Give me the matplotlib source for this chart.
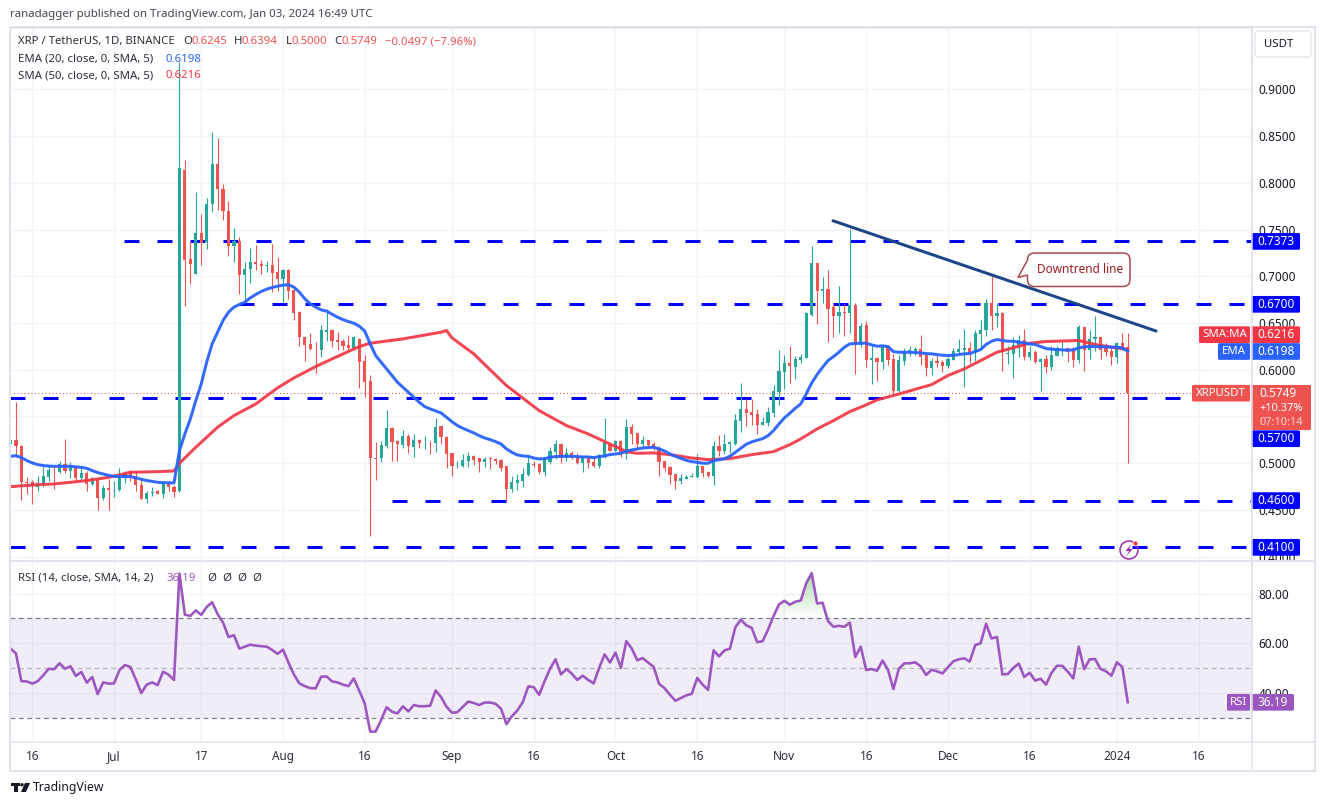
import numpy as np
import matplotlib
matplotlib.use("Agg")
import matplotlib.pyplot as plt
from matplotlib.patches import Rectangle, FancyBboxPatch, Circle, Polygon, PathPatch
from matplotlib.path import Path

# ---- data (days counted from 16 Jun 2023) ----
first_day = -4
opens = [.5206,.5249,.5188,.4799,.4799,.4742,.4778,.4857,.4931,.4910,
 .4992,.4921,.4949,.4846,.4899,.4774,.4821,.4632,.4739,.4721,
 .4717,.4839,.4903,.4867,.4771,.4614,.4678,.4707,.4668,.4774,
 .4749,.4700,.8140,.7180,.7026,.7465,.7365,.7772,.8197,.7936,
 .7701,.7319,.7380,.7009,.7073,.7158,.7133,.7108,.7116,.7041,
 .6966,.7062,.6848,.6619,.6355,.6277,.6238,.6216,.6409,.6430,
 .6323,.6312,.6270,.6234,.6330,.6098,.5884,.5057,.5053,.5188,
 .5381,.5242,.5199,.5295,.5178,.5253,.5224,.5231,.5220,.5395,
 .5285,.5106,.4978,.4971,.5028,.5081,.5053,.5017,.5053,.5049,
 .5039,.4967,.4728,.4792,.4814,.4878,.4996,.4996,.4910,.5017,
 .5124,.5210,.5057,.5113,.5071,.5006,.5064,.5017,.4974,.5071,
 .5203,.5135,.5242,.5103,.5392,.5328,.5210,.5253,.5210,.5167,
 .5028,.4964,.4889,.4814,.4835,.4849,.4857,.4974,.4910,.4867,
 .5188,.5135,.5210,.5210,.5456,.5584,.5553,.5531,.5413,.5435,
 .5542,.5766,.5981,.6077,.6034,.6109,.6131,.6587,.7147,.6840,
 .6865,.6666,.6580,.6623,.6602,.6698,.6269,.6484,.6109,.6130,
 .6087,.6259,.6120,.5777,.6098,.6202,.6198,.6227,.6162,.6023,
 .6098,.6088,.6045,.6109,.6195,.6216,.6238,.6195,.6387,.6420,
 .6719,.6570,.6612,.6173,.6173,.6259,.6313,.6141,.6195,.6088,
 .6120,.6034,.6152,.6230,.6238,.6205,.6109,.6462,.6216,.6334,
 .6345,.6238,.6205,.6141,.6291,.6245]
highs = [.5278,.5660,.5199,.4857,.4824,.4864,.4956,.4981,.4971,.5028,
 .5263,.5017,.4956,.4971,.4921,.4849,.4842,.4771,.4828,.4814,
 .4953,.4914,.4928,.4914,.4842,.4707,.4749,.4714,.4807,.4796,
 .4764,.9290,.8247,.7365,.7897,.7662,.7840,.8540,.8482,.7983,
 .7801,.7519,.7422,.7155,.7305,.7330,.7169,.7162,.7348,.7201,
 .7083,.7073,.6866,.6627,.6355,.6388,.6295,.6484,.6652,.6441,
 .6409,.6330,.6377,.6363,.6341,.6159,.5949,.5231,.5242,.5574,
 .5392,.5253,.5360,.5317,.5317,.5256,.5295,.5238,.5488,.5403,
 .5295,.5113,.5028,.5103,.5121,.5085,.5060,.5071,.5071,.5053,
 .5046,.4974,.4867,.4889,.4953,.5081,.5028,.5006,.5071,.5171,
 .5253,.5213,.5167,.5135,.5113,.5081,.5081,.5071,.5103,.5488,
 .5220,.5253,.5253,.5477,.5424,.5328,.5295,.5253,.5231,.5188,
 .5028,.4974,.4889,.4889,.4878,.4899,.5103,.4974,.4921,.5242,
 .5306,.5317,.5242,.5531,.5863,.5688,.5691,.5584,.5499,.5606,
 .5842,.6206,.6163,.6259,.6152,.6173,.6623,.7319,.7147,.6987,
 .7062,.6708,.6901,.6708,.7501,.6719,.6505,.6526,.6269,.6141,
 .6280,.6269,.6169,.6162,.6237,.6259,.6248,.6376,.6169,.6131,
 .6163,.6109,.6141,.6238,.6334,.6441,.6302,.6430,.6537,.6752,
 .6998,.6709,.6623,.6259,.6345,.6377,.6441,.6259,.6216,.6131,
 .6163,.6259,.6259,.6323,.6248,.6248,.6484,.6462,.6420,.6580,
 .6355,.6291,.6248,.6302,.6398,.6394]
lows = [.5171,.5064,.4610,.4671,.4560,.4699,.4742,.4807,.4721,.4896,
 .4892,.4839,.4807,.4821,.4699,.4767,.4496,.4610,.4496,.4635,
 .4699,.4785,.4814,.4699,.4614,.4571,.4650,.4668,.4625,.4707,
 .4642,.4695,.6687,.6912,.7023,.7116,.7297,.7683,.7704,.7597,
 .7212,.7148,.6805,.6741,.6926,.7062,.7019,.7041,.6830,.6841,
 .6730,.6762,.6537,.6252,.6098,.6206,.5963,.6141,.6312,.6241,
 .6213,.6216,.6206,.6227,.5802,.5713,.4225,.4824,.5010,.5160,
 .5028,.5028,.5160,.5106,.5071,.5160,.5156,.5103,.5124,.5210,
 .4946,.4860,.4946,.4964,.4964,.4985,.4910,.4964,.4942,.4996,
 .4921,.4592,.4696,.4717,.4742,.4867,.4964,.4885,.4860,.4996,
 .5049,.5000,.5028,.5049,.4989,.4910,.4953,.4964,.4953,.5060,
 .5135,.5135,.5071,.5049,.5203,.5167,.5178,.5178,.5146,.4867,
 .4921,.4782,.4728,.4782,.4835,.4849,.4846,.4857,.4857,.4771,
 .5081,.5103,.5113,.5199,.5338,.5403,.5413,.5317,.5413,.5403,
 .5499,.5627,.5799,.5863,.5906,.6077,.6131,.6580,.6494,.6719,
 .6302,.6355,.6398,.6366,.6398,.5959,.6248,.6034,.5852,.5884,
 .6013,.6055,.5734,.5766,.6055,.6152,.6162,.6055,.5937,.5949,
 .6034,.5981,.6023,.6109,.6173,.5820,.6077,.6098,.6238,.6366,
 .6420,.6462,.5991,.6066,.5916,.6141,.6109,.6109,.6077,.5777,
 .5970,.6002,.6152,.6152,.6088,.6034,.6077,.5991,.6120,.6205,
 .6120,.6152,.6056,.6077,.6216,.5000]
closes = [.5249,.5181,.4796,.4792,.4760,.4789,.4864,.4931,.4924,.4992,
 .4921,.4985,.4846,.4896,.4774,.4842,.4632,.4735,.4717,.4728,
 .4842,.4899,.4864,.4764,.4614,.4685,.4696,.4668,.4782,.4742,
 .4696,.8154,.7169,.7126,.7465,.7358,.7776,.8197,.7933,.7697,
 .7323,.7372,.7009,.7080,.7158,.7126,.7105,.7116,.7033,.6966,
 .7062,.6841,.6612,.6345,.6270,.6227,.6230,.6420,.6430,.6312,
 .6302,.6259,.6234,.6345,.6088,.5874,.5053,.5049,.5199,.5381,
 .5231,.5203,.5295,.5181,.5253,.5220,.5231,.5224,.5392,.5278,
 .5096,.4967,.4985,.5039,.5081,.5039,.5017,.5049,.5046,.5024,
 .4953,.4728,.4803,.4824,.4889,.5006,.4985,.4910,.5060,.5135,
 .5210,.5053,.5113,.5060,.5006,.5064,.5006,.4974,.5092,.5231,
 .5135,.5242,.5113,.5392,.5317,.5210,.5253,.5199,.5160,.5017,
 .4953,.4878,.4814,.4846,.4857,.4867,.4974,.4899,.4867,.5188,
 .5135,.5210,.5228,.5467,.5584,.5542,.5520,.5413,.5445,.5553,
 .5777,.5991,.6077,.6045,.6120,.6141,.6602,.7147,.6840,.6865,
 .6655,.6580,.6623,.6602,.6698,.6280,.6473,.6109,.6130,.6087,
 .6259,.6109,.5777,.6109,.6205,.6216,.6227,.6141,.6023,.6098,
 .6077,.6045,.6120,.6205,.6223,.6238,.6184,.6398,.6430,.6719,
 .6570,.6612,.6195,.6184,.6270,.6313,.6141,.6195,.6088,.6120,
 .6034,.6163,.6238,.6238,.6195,.6109,.6462,.6213,.6334,.6345,
 .6216,.6195,.6141,.6291,.6227,.5749]
ema20 = [.5074,.5081,.5060,.5028,.5003,.4985,.4975,.4970,.4967,.4967,
 .4967,.4967,.4962,.4956,.4945,.4921,.4900,.4885,.4870,.4860,
 .4857,.4857,.4857,.4845,.4828,.4815,.4805,.4796,.4792,.4790,
 .4789,.5135,.5314,.5474,.5670,.5849,.6081,.6277,.6402,.6527,
 .6616,.6670,.6698,.6723,.6769,.6805,.6837,.6862,.6880,.6894,
 .6905,.6909,.6884,.6830,.6759,.6705,.6670,.6641,.6627,.6595,
 .6562,.6537,.6516,.6498,.6466,.6413,.6277,.6152,.6081,.6009,
 .5938,.5866,.5813,.5759,.5706,.5652,.5606,.5581,.5560,.5538,
 .5492,.5445,.5403,.5374,.5349,.5324,.5295,.5270,.5253,.5231,
 .5206,.5153,.5117,.5088,.5078,.5074,.5056,.5046,.5049,.5064,
 .5071,.5074,.5074,.5074,.5071,.5067,.5067,.5060,.5071,.5078,
 .5092,.5099,.5106,.5128,.5142,.5153,.5163,.5167,.5171,.5153,
 .5131,.5099,.5074,.5053,.5031,.5017,.5010,.5000,.5000,.5028,
 .5039,.5049,.5074,.5117,.5160,.5203,.5228,.5246,.5263,.5295,
 .5349,.5420,.5485,.5535,.5588,.5635,.5742,.5859,.5949,.6027,
 .6098,.6141,.6188,.6241,.6277,.6280,.6284,.6284,.6266,.6252,
 .6255,.6248,.6194,.6187,.6187,.6187,.6184,.6180,.6173,.6170,
 .6163,.6155,.6152,.6155,.6163,.6170,.6173,.6195,.6216,.6270,
 .6305,.6323,.6313,.6305,.6305,.6295,.6288,.6277,.6270,.6248,
 .6227,.6220,.6216,.6213,.6209,.6213,.6234,.6245,.6248,.6248,
 .6245,.6245,.6241,.6241,.6234,.6198]
sma_days = [-4,0,4,10,14,18,23,26,27,30,34,37,41,45,48,52,55,60,62,68,75,76,77,81,83,87,93,
 98,102,106,109,111,114,117,121,124,128,132,136,139,141,144,147,150,153,155,159,165,168,
 171,174,177,180,183,186,192,195,201]
sma50 = [.4749,.4767,.4778,.4814,.4849,.4903,.4910,.4917,.5000,.5171,.5385,.5510,.5634,.5806,.5913,.6034,.6116,
 .6248,.6284,.6330,.6402,.6420,.6341,.6170,.6056,.5831,.5563,.5403,.5313,.5206,.5124,.5106,.5110,.5092,
 .5056,.5039,.5049,.5092,.5124,.5199,.5260,.5367,.5456,.5552,.5624,.5677,.5741,.5841,.5938,.6009,.6098,
 .6188,.6234,.6284,.6302,.6313,.6270,.6216]
rsi = [57.8,55.9,44.7,44.6,43.7,44.7,47.0,49.7,49.5,51.9,49.7,50.7,46.8,48.4,44.1,46.4,39.5,44.2,43.7,43.8,
 49.2,51.2,50.4,45.4,39.9,43.3,44.2,43.1,48.5,47.3,45.2,88.0,71.5,71.0,73.2,71.4,74.6,76.5,71.7,68.3,
 62.5,63.2,57.8,58.6,59.4,59.0,58.8,58.6,57.3,55.7,57.4,52.2,47.4,43.8,42.7,41.9,41.8,46.5,46.6,44.6,
 44.2,43.3,42.7,45.8,40.7,35.7,24.4,24.4,29.0,34.2,32.4,31.7,34.6,32.5,35.1,34.6,34.6,34.8,41.0,38.3,
 34.4,32.0,32.2,34.4,36.5,35.9,35.1,36.1,36.1,35.6,33.6,27.4,30.6,32.9,36.3,42.6,42.3,39.2,44.7,49.7,
 53.5,47.4,49.6,47.7,45.2,46.9,45.2,43.8,50.0,55.5,52.2,56.2,50.1,60.8,57.8,53.1,54.0,52.2,50.5,43.6,
 41.9,39.2,36.8,37.9,39.0,39.6,46.0,43.3,41.2,57.1,54.7,57.1,57.8,66.4,69.5,67.2,66.2,60.4,60.8,65.5,
 70.9,75.6,77.1,75.5,76.7,77.2,84.1,88.2,76.0,76.3,68.9,66.6,67.0,66.6,68.3,54.4,58.6,49.2,49.6,48.9,
 53.0,49.3,41.5,49.7,51.9,51.9,52.3,50.7,47.2,49.3,48.7,47.8,50.3,52.7,53.5,53.9,52.6,59.2,60.0,67.8,
 61.9,62.5,47.4,47.6,50.0,51.8,46.4,48.1,44.9,45.7,43.3,48.0,50.9,50.9,48.5,45.8,58.6,49.5,53.5,53.6,
 49.6,48.7,46.9,52.3,50.4,36.19]
level_prices = [0.7373, 0.6700, 0.5700, 0.4600, 0.4100]
level_starts = [16.8, 37.9, -4.1, 66.0, -4.1]
trend_days = [146.9, 206.2]
trend_prices = [0.7594, 0.6414]
last_price = 0.5749
sma_last = 0.6216
ema_last = 0.6198
price_ticks = [0.40,0.45,0.50,0.55,0.60,0.65,0.70,0.75,0.80,0.85,0.90]
rsi_ticks = [40, 60, 80]
time_days = [0,15,31,46,61,77,92,107,122,138,153,168,183,199,214]
time_labels = ["16","Jul","17","Aug","16","Sep","16","Oct","16","Nov","16","Dec","16","2024","16"]

# ---- layout ----
W, H = 1325, 805
plt.rcParams['font.family'] = ['Noto Sans', 'DejaVu Sans']
GRID, FRAME, TXT = '#f0f3f8', '#e0e3eb', '#131722'
UP, DOWN = '#26a69a', '#ef5350'
BLUE, RED = '#2962ff', '#f23645'
PURPLE = '#9c56c0'
PX = 0.72  # one pixel in points

fig = plt.figure(figsize=(W/100, H/100), dpi=100, facecolor='white')
def rect_px(l, t, r, b):
    return [l/W, 1-b/H, (r-l)/W, (b-t)/H]
ax = fig.add_axes(rect_px(10, 28, 1251.5, 561))
rs = fig.add_axes(rect_px(10, 561, 1251.5, 742))
ov = fig.add_axes([0, 0, 1, 1], zorder=10)
ov.set_xlim(0, W); ov.set_ylim(H, 0); ov.axis('off'); ov.patch.set_alpha(0)

days = np.arange(first_day, first_day+len(closes))
xlim = (-4.09, 223.7)
for a in (ax, rs):
    a.set_xlim(*xlim)
    a.set_xticks(time_days)
    a.grid(True, color=GRID, lw=1.4*PX)
    a.set_axisbelow(True)
    a.yaxis.tick_right()
    a.tick_params(length=0, labelsize=8.5, labelcolor=TXT, pad=5.2)
    for s in a.spines.values():
        s.set_color(FRAME); s.set_linewidth(1.5*PX)
ax.spines['bottom'].set_visible(False)
rs.spines['top'].set_visible(False)
ax.set_ylim(0.3954, 0.9656)
ax.set_yticks(price_ticks)
ax.set_yticklabels([f"{t:.4f}" for t in price_ticks])
ax.tick_params(labelbottom=False)
rs.set_ylim(20.2, 93.1)
rs.set_yticks(rsi_ticks)
rs.set_yticklabels([f"{t:.2f}" for t in rsi_ticks])
rs.set_xticklabels(time_labels)
rs.tick_params(axis='x', pad=6, labelsize=8.5, labelcolor='#2a2e39')
for lab, t in zip(rs.get_xticklabels(), time_labels):
    if t == "2024":
        lab.set_fontweight('bold')

# ---- price pane ----
for p, s in zip(level_prices, level_starts):
    ax.plot([s, xlim[1]], [p, p], color='#0000ff', lw=3*PX, ls=(0, (5, 6)),
            dash_capstyle='butt', zorder=2)
ax.axhline(last_price, color=DOWN, lw=1*PX, ls=(0, (1, 2.5)), zorder=2)
o, h, l, c = map(np.array, (opens, highs, lows, closes))
cols = np.where(c >= o, UP, DOWN)
ax.vlines(days, l, h, colors=cols, lw=1.1*PX, zorder=3)
bh = np.maximum(np.abs(c-o), 0.0008)
ax.bar(days, bh, bottom=np.minimum(o, c), width=0.58, color=cols, lw=0, zorder=3)
ax.plot(sma_days, sma50, color=RED, lw=3*PX, alpha=.92, zorder=4, solid_joinstyle='round')
ax.plot(days, ema20, color=BLUE, lw=3*PX, alpha=.95, zorder=5, solid_joinstyle='round')
ax.plot(trend_days, trend_prices, color='#1c4587', lw=3*PX, zorder=6, solid_capstyle='round')

# ---- RSI pane ----
rs.axhspan(30, 70, color='#7e57c2', alpha=.1, lw=0, zorder=1)
rs.axhline(70, color='#787b86', lw=1*PX*1.2, ls=(0, (4, 3)), zorder=2)
rs.axhline(50, color='#787b86', lw=1*PX*1.2, ls=(0, (4, 3)), alpha=.5, zorder=2)
rs.axhline(30, color='#787b86', lw=1*PX*1.2, ls=(0, (4, 3)), zorder=2)
rsi_a = np.array(rsi)
fine = np.linspace(days[0], days[-1], 3000)
fine_r = np.interp(fine, days, rsi_a)
def gradient_fill(where_mask, y1, y2, rgb, a1, a2, base):
    poly = rs.fill_between(fine, fine_r, base, where=where_mask, color='none', lw=0)
    n = 64
    grad = np.zeros((n, 2, 4))
    grad[..., :3] = rgb
    grad[..., 3] = np.linspace(a1, a2, n)[:, None]
    im = rs.imshow(grad, extent=(xlim[0], xlim[1], y2, y1), origin='upper', aspect='auto', zorder=2)
    paths = poly.get_paths()
    im.set_clip_path(Path.make_compound_path(*paths), transform=rs.transData)
gradient_fill(fine_r >= 70, 70, 90, (0.3, 0.69, 0.31), 0.0, 0.5, 70)
gradient_fill(fine_r <= 30, 30, 22, (0.94, 0.33, 0.31), 0.0, 0.25, 30)
rs.set_xlim(*xlim); rs.set_ylim(20.2, 93.1)
rs.plot(days, rsi_a, color=PURPLE, lw=2.6*PX, zorder=4, solid_joinstyle='round')

# ---- chrome in pixel coordinates ----
ov.add_patch(Rectangle((10, 27), 1305, 743.5, fill=False, ec=FRAME, lw=2*PX))
ov.plot([1251.5, 1251.5], [27, 770], color=FRAME, lw=1.5*PX)
ov.plot([10, 1315], [561, 561], color=FRAME, lw=2*PX)
ov.plot([1251.5, 1315], [742, 742], color=FRAME, lw=1.5*PX)

FS = 8.2
TFS = 8.5
def txt(x, y, s, col=TXT, ha='left', fs=FS, **k):
    ov.text(x, y, s, color=col, ha=ha, va='center', fontsize=fs, **k)

txt(10, 15, "ranadagger published on TradingView.com, Jan 03, 2024 16:49 UTC", '#434651', fs=8.25)
txt(18, 41.5, "XRP / TetherUS, 1D, BINANCE", '#2a2e39')
for x, s, col in [(183,"O",'#2a2e39'),(191,"0.6245",DOWN),(234,"H",'#2a2e39'),(242,"0.6394",DOWN),
                  (286,"L",'#2a2e39'),(292,"0.5000",DOWN),(334,"C",'#2a2e39'),(342,"0.5749",DOWN),
                  (385,"\u22120.0497 (\u22127.96%)",DOWN)]:
    txt(x, 41.5, s, col)
txt(18, 59, "EMA (20, close, 0, SMA, 5)", '#2a2e39'); txt(165, 59, "0.6198", BLUE)
txt(18, 76, "SMA (50, close, 0, SMA, 5)", '#2a2e39'); txt(165, 76, "0.6216", RED)
txt(18, 578, "RSI (14, close, SMA, 14, 2)", '#2a2e39'); txt(166, 578, "36.19", PURPLE)
for x in (207, 222, 237, 252):
    txt(x, 578, "\u00d8", '#2a2e39')

# USDT button
ov.add_patch(FancyBboxPatch((1258, 34), 50, 20, boxstyle="round,pad=3,rounding_size=4",
                            fc='white', ec=FRAME, lw=1.2*PX))
txt(1264, 44.5, "USDT")

def py(p):
    return H - ax.transData.transform((0, p))[1]
def ry(v):
    return H - rs.transData.transform((0, v))[1]

def tag(l, r, yc, s, col, fg='white', h=16.7, fs=TFS):
    ov.add_patch(FancyBboxPatch((l+1, yc-h/2+1), r-l-2, h-2, boxstyle="round,pad=1,rounding_size=1.5",
                                fc=col, ec=col, lw=0))
    ov.text((l+r)/2, yc, s, color=fg, ha='center', va='center', fontsize=fs)

for p in (0.7373, 0.6700, 0.4600, 0.4100):
    tag(1251.5, 1300, py(p), f"{p:.4f}", '#0000ff')
tag(1251.5, 1300, 438.7, "0.5700", '#0000ff')
tag(1199, 1250, 334.7, "SMA:MA", RED, fs=8.2)
tag(1251.5, 1300, 334.7, f"{sma_last:.4f}", RED)
tag(1218, 1250, 351.5, "EMA", BLUE, fs=8.2)
tag(1251.5, 1300, 351.5, f"{ema_last:.4f}", BLUE)
tag(1192, 1250, py(last_price), "XRPUSDT", DOWN, fs=8.2)
ov.add_patch(FancyBboxPatch((1252.5, 386), 57.5, 43, boxstyle="round,pad=1,rounding_size=1.5", fc=DOWN, ec=DOWN, lw=0))
txt(1259, 393.5, f"{last_price:.4f}", 'white', fs=TFS)
txt(1259, 408.5, "+10.37%", 'white', fs=8.0)
txt(1259, 422.5, "07:10:14", '#ffd5d4', fs=8.0)
tag(1227, 1250, ry(rsi[-1]), "RSI", PURPLE, fs=8.2)
tag(1251.5, 1294, ry(rsi[-1]), f"{rsi[-1]:.2f}", PURPLE)

# callout
def rounded_callout(l, t, r, b, rad, tip):
    k = Path.CURVE3
    v = [(l+rad, t), (r-rad, t), (r, t), (r, t+rad), (r, b-rad), (r, b), (r-rad, b), (l+rad, b), (l, b), (l, b-rad),
         (l, t+22), tip, (l, t+rad), (l, t), (l+rad, t)]
    codes = [Path.MOVETO, Path.LINETO, k, k, Path.LINETO, k, k, Path.LINETO, k, k,
             Path.LINETO, Path.LINETO, Path.LINETO, k, k]
    return Path(v, codes)
ov.add_patch(PathPatch(rounded_callout(1027.5, 253, 1130, 286.5, 7, (1018, 277.5)),
                       fc='white', ec='#a8474b', lw=1.5*PX))
ov.text(1080.5, 269.5, "Downtrend line", color='#9c1c20', ha='center', va='center', fontsize=8.5)

# flash icon
ov.add_patch(Circle((1129, 550), 9, fill=False, ec='#9c27b0', lw=1.5*PX))
ov.add_patch(Polygon([(1131.5,544),(1125.5,551),(1129,551),(1126.5,556),(1132.5,549),(1129,549)],
                     closed=True, fc='#9c27b0', ec='none'))
ov.add_patch(Circle((1135.5, 543.5), 2.5, fc='#f23645', ec='white', lw=0.5))

# logo + footer
ov.add_patch(Polygon([(10.5,783),(20,783),(20,786.2),(18,786.2),(18,792),(14,792),(14,786.2),(10.5,786.2)],
                     closed=True, fc='#131722', ec='none'))
ov.add_patch(Circle((22, 784.8), 1.7, fc='#131722', ec='none'))
ov.add_patch(Polygon([(25,783),(30,783),(26,792),(21,792)], closed=True, fc='#131722', ec='none'))
txt(33, 787, "TradingView", '#131722', fs=8.8)

fig.savefig("out.png", dpi=100, facecolor='white')
